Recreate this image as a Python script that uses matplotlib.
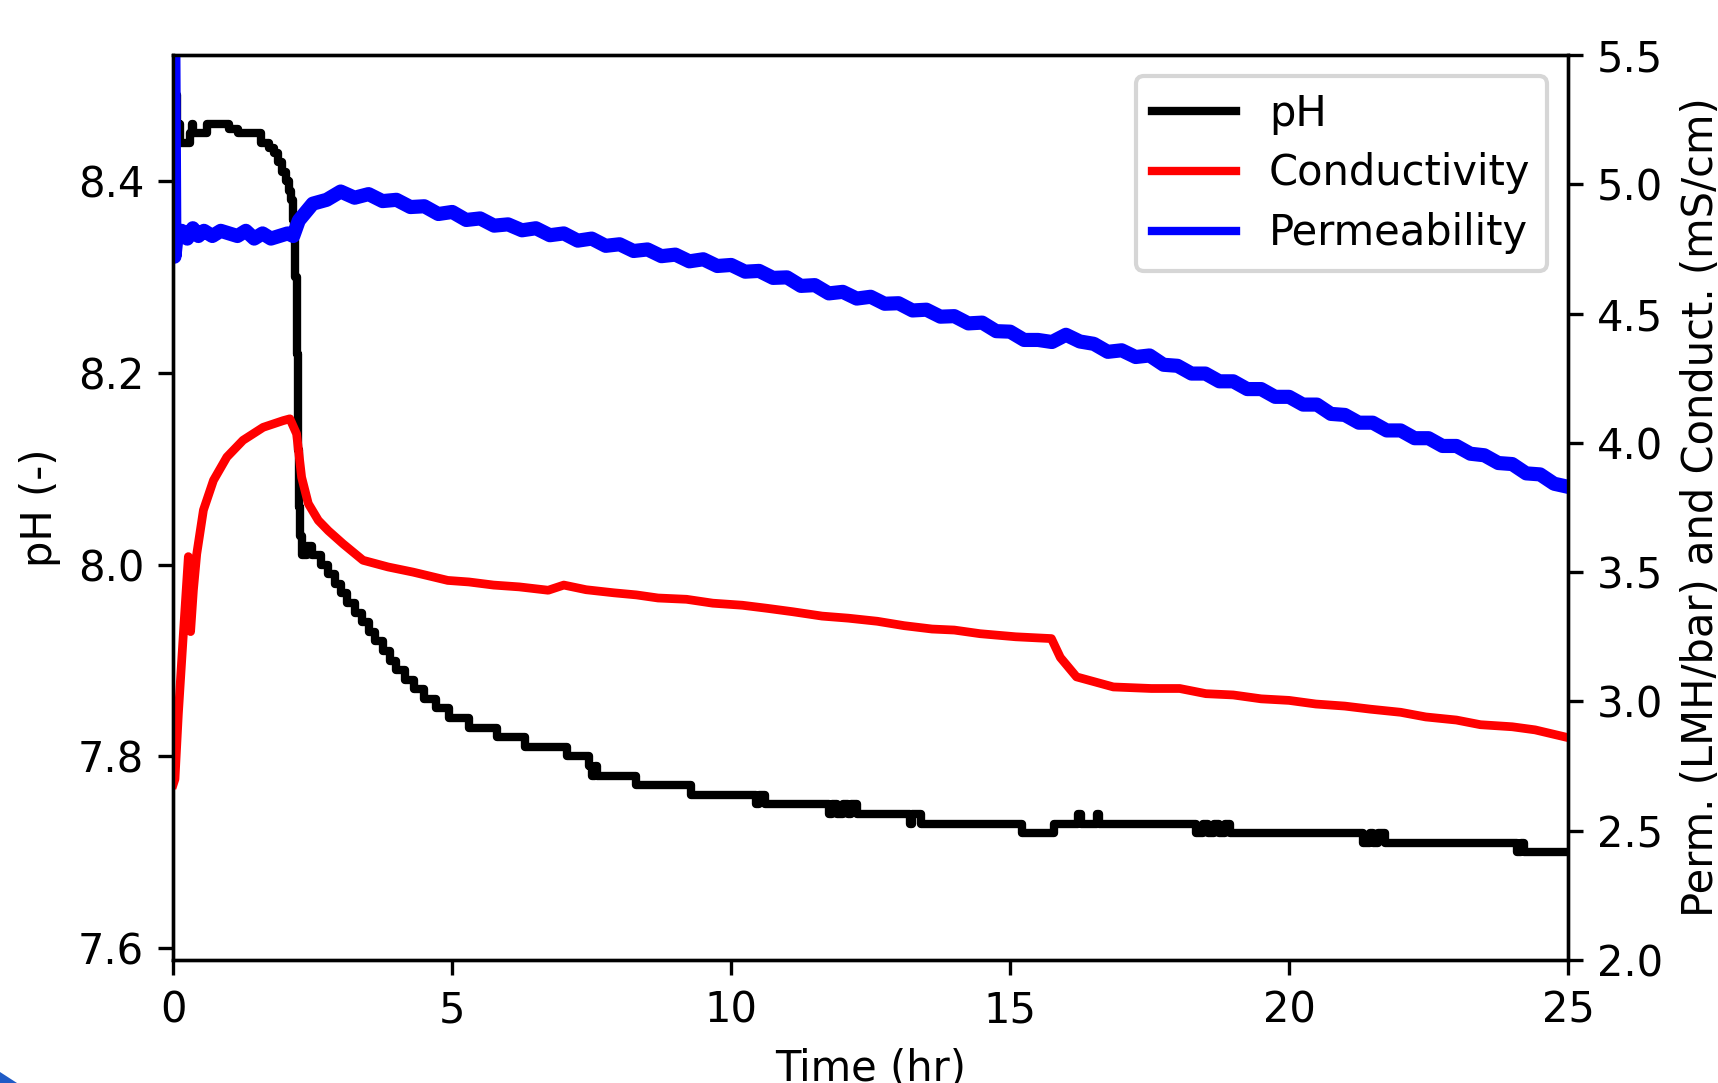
import matplotlib
matplotlib.use("Agg")
import matplotlib.pyplot as plt
from matplotlib.lines import Line2D
from matplotlib.patches import Polygon

plt.rcParams['font.family'] = ['DejaVu Sans']
plt.rcParams['font.size'] = 10

# ---------------- data ----------------
# pH (step-wise sensor readings)
ph_time = [0.00, 0.02, 0.06, 0.12, 0.30, 0.33, 0.36, 0.60, 1.00, 1.16, 1.58, 1.72, 1.80,
           1.88, 1.95, 2.02, 2.07, 2.11, 2.14, 2.17, 2.19, 2.21, 2.23, 2.25, 2.27, 2.30,
           2.40, 2.48, 2.65, 2.78, 2.90, 3.00, 3.12, 3.25, 3.38, 3.50, 3.62, 3.75, 3.88,
           4.00, 4.15, 4.32, 4.50, 4.70, 4.95, 5.30, 5.80, 6.30, 7.05, 7.45, 7.50, 7.56,
           7.60, 8.30, 9.28, 10.45, 10.50, 10.60, 11.75, 11.80, 11.90, 12.00, 12.10, 12.15,
           12.25, 13.20, 13.25, 13.40, 15.21, 15.78, 16.22, 16.27, 16.55, 16.60, 18.34,
           18.45, 18.55, 18.65, 18.75, 18.85, 18.95, 19.12, 21.33, 21.45, 21.50, 21.60,
           21.72, 24.08, 24.15, 24.22, 25.00]
ph_value = [8.53, 8.49, 8.46, 8.44, 8.45, 8.46, 8.45, 8.46, 8.455, 8.45, 8.44, 8.435, 8.43,
            8.42, 8.41, 8.40, 8.39, 8.38, 8.36, 8.34, 8.30, 8.22, 8.12, 8.06, 8.03, 8.01,
            8.02, 8.01, 8.00, 7.99, 7.98, 7.97, 7.96, 7.95, 7.94, 7.93, 7.92, 7.91, 7.90,
            7.89, 7.88, 7.87, 7.86, 7.85, 7.84, 7.83, 7.82, 7.81, 7.80, 7.79, 7.78, 7.79,
            7.78, 7.77, 7.76, 7.75, 7.76, 7.75, 7.74, 7.75, 7.74, 7.75, 7.74, 7.75,
            7.74, 7.73, 7.74, 7.73, 7.72, 7.73, 7.74, 7.73, 7.74, 7.73, 7.72,
            7.73, 7.72, 7.73, 7.72, 7.73, 7.72, 7.72, 7.71, 7.72, 7.71, 7.72,
            7.71, 7.70, 7.71, 7.70, 7.70]

# Conductivity (mS/cm)
cond_time = [0.00, 0.03, 0.09, 0.18, 0.27, 0.31, 0.36, 0.42, 0.54, 0.72, 0.96, 1.25, 1.61,
             1.97, 2.09, 2.21, 2.30, 2.42, 2.60, 2.78, 3.04, 3.40, 3.85, 4.30, 4.92, 5.30,
             5.74, 6.20, 6.72, 7.00, 7.40, 7.90, 8.30, 8.69, 9.20, 9.67, 10.20, 10.65, 11.10,
             11.63, 12.10, 12.62, 13.10, 13.60, 14.00, 14.46, 15.10, 15.74, 15.90, 16.19,
             16.85, 17.53, 18.04, 18.51, 19.00, 19.50, 20.00, 20.48, 21.00, 21.46, 22.00,
             22.45, 23.00, 23.43, 24.00, 24.41, 25.00]
cond_value = [2.68, 2.70, 2.95, 3.26, 3.56, 3.27, 3.43, 3.57, 3.74, 3.855, 3.945, 4.01, 4.06,
              4.086, 4.093, 4.035, 3.867, 3.765, 3.70, 3.66, 3.61, 3.546, 3.52, 3.50, 3.468,
              3.462, 3.45, 3.443, 3.43, 3.45, 3.432, 3.42, 3.412, 3.40, 3.395, 3.38, 3.372,
              3.36, 3.347, 3.33, 3.322, 3.31, 3.293, 3.28, 3.276, 3.262, 3.25, 3.243,
              3.17, 3.095, 3.056, 3.05, 3.05, 3.03, 3.025, 3.01, 3.004, 2.99, 2.982, 2.97,
              2.958, 2.94, 2.928, 2.91, 2.902, 2.89, 2.86]

# Permeability (LMH/bar)
perm_time = [0.00, 0.02, 0.06, 0.15, 0.25, 0.35, 0.45, 0.55, 0.70, 0.85, 1.00, 1.15, 1.30,
             1.45, 1.60, 1.75, 1.90, 2.05, 2.15,
             2.25, 2.50, 2.75, 3.00, 3.25, 3.50, 3.75, 4.00, 4.25, 4.50, 4.75, 5.00, 5.25,
             5.50, 5.75, 6.00, 6.25, 6.50, 6.75, 7.00, 7.25, 7.50, 7.75, 8.00, 8.25, 8.50,
             8.75, 9.00, 9.25, 9.50, 9.75, 10.00, 10.25, 10.50, 10.75, 11.00, 11.25, 11.50,
             11.75, 12.00, 12.25, 12.50, 12.75, 13.00, 13.25, 13.50, 13.75, 14.00, 14.25,
             14.50, 14.75, 15.00, 15.25, 15.50, 15.75, 16.00, 16.25, 16.50, 16.75, 17.00,
             17.25, 17.50, 17.75, 18.00, 18.25, 18.50, 18.75, 19.00, 19.25, 19.50, 19.75,
             20.00, 20.25, 20.50, 20.75, 21.00, 21.25, 21.50, 21.75, 22.00, 22.25, 22.50,
             22.75, 23.00, 23.25, 23.50, 23.75, 24.00, 24.25, 24.50, 24.75, 25.00]
perm_value = [5.55, 4.72, 4.80, 4.82, 4.79, 4.83, 4.80, 4.82, 4.80, 4.82, 4.81, 4.80, 4.82,
              4.79, 4.81, 4.79, 4.80, 4.81, 4.80,
              4.86, 4.925, 4.94, 4.972, 4.948, 4.962, 4.935, 4.94, 4.912, 4.915, 4.885, 4.893,
              4.862, 4.868, 4.84, 4.845, 4.822, 4.83, 4.803, 4.81, 4.782, 4.79, 4.762, 4.768,
              4.742, 4.748, 4.722, 4.728, 4.702, 4.71, 4.684, 4.688, 4.662, 4.665, 4.638,
              4.64, 4.607, 4.61, 4.578, 4.584, 4.558, 4.565, 4.538, 4.54, 4.512, 4.515,
              4.488, 4.49, 4.462, 4.465, 4.432, 4.43, 4.398, 4.398, 4.39, 4.418, 4.392,
              4.383, 4.352, 4.358, 4.332, 4.338, 4.302, 4.298, 4.268, 4.268, 4.238, 4.238,
              4.208, 4.208, 4.178, 4.178, 4.148, 4.148, 4.112, 4.108, 4.078, 4.078, 4.048,
              4.048, 4.018, 4.018, 3.988, 3.988, 3.958, 3.952, 3.922, 3.918, 3.882, 3.878,
              3.842, 3.83]

labels = ["pH", "Conductivity", "Permeability"]
colors = ["black", "red", "blue"]

# ---------------- figure ----------------
W, H = 1718, 1083
fig = plt.figure(figsize=(W / 300, H / 300), dpi=300)
left, right, top, bottom = 173.3, 1568.0, 55.0, 960.0
ax = fig.add_axes([left / W, (H - bottom) / H, (right - left) / W, (bottom - top) / H])
ax2 = ax.twinx()

ax.plot(ph_time, ph_value, color=colors[0], lw=2.0, drawstyle="steps-post")
ax2.plot(cond_time, cond_value, color=colors[1], lw=2.1)
ax2.plot(perm_time, perm_value, color=colors[2], lw=3.4)

ax.set_xlim(0, 25)
ax.set_ylim(7.5876, 8.5318)
ax.set_yticks([7.6, 7.8, 8.0, 8.2, 8.4])
ax.set_xticks([0, 5, 10, 15, 20, 25])
ax2.set_ylim(2.0, 5.5)
ax2.set_yticks([2.0, 2.5, 3.0, 3.5, 4.0, 4.5, 5.0, 5.5])

ax.set_xlabel("Time (hr)")
ax.set_ylabel("pH (-)")
ax2.set_ylabel("Perm. (LMH/bar) and Conduct. (mS/cm)")

handles = [Line2D([], [], color=c, lw=2.0) for c in colors]
ax2.legend(handles, labels, loc="upper right", labelspacing=0.43)

# small blue corner artifact
fig.patches.append(Polygon([(0, 0), (17 / W, 0), (0, 11 / H)], closed=True,
                           transform=fig.transFigure, facecolor="#1f5bc6",
                           edgecolor="none"))

fig.savefig("out.png", dpi=300)
